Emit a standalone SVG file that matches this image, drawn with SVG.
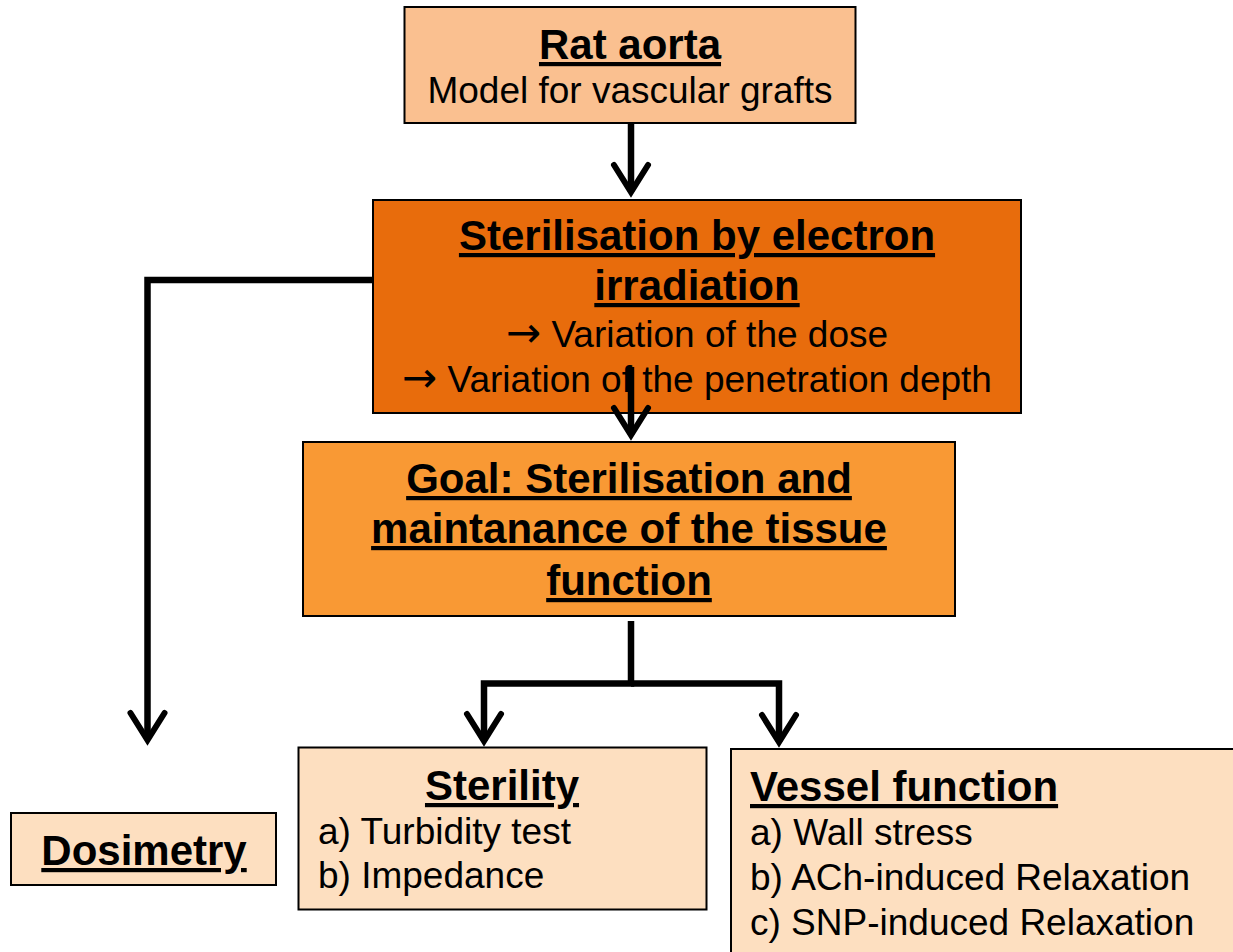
<svg xmlns="http://www.w3.org/2000/svg" width="1233" height="952" viewBox="0 0 1233 952">
<style>
.box{stroke:#000;stroke-width:2}
.t{font-family:"Liberation Sans",Arial,sans-serif;fill:#000}
.b{font-size:42px;font-weight:bold;text-decoration:underline}
.r{font-size:37px}
.c{text-anchor:middle}
.arr{font-family:"DejaVu Sans",sans-serif;font-size:42px}
.con{fill:none;stroke:#000;stroke-width:6.5;stroke-linejoin:miter}
</style>
<defs>
<marker id="ah" markerUnits="userSpaceOnUse" viewBox="-40 -25 50 50" refX="0" refY="0" markerWidth="50" markerHeight="50" orient="auto" overflow="visible">
<path d="M-27,-17 L0,0 L-27,17" fill="none" stroke="#000" stroke-width="6" stroke-linecap="round" stroke-linejoin="miter"/>
</marker>
</defs>
<rect width="1233" height="952" fill="#fff"/>
<g id="rat-aorta">
<rect class="box" x="404.5" y="7" width="451" height="116" fill="#FAC090"/>
<text class="t b c" x="630" y="59">Rat aorta</text>
<text class="t r c" x="630" y="103">Model for vascular grafts</text>
</g>
<g id="sterilisation">
<rect class="box" x="373" y="200" width="648" height="213" fill="#E86C0C"/>
<text class="t b c" x="697" y="250">Sterilisation by electron</text>
<text class="t b c" x="697" y="300">irradiation</text>
<text class="t r c" x="697" y="347"><tspan class="arr">→</tspan> Variation of the dose</text>
<text class="t r c" x="697" y="392"><tspan class="arr">→</tspan> Variation of the penetration depth</text>
</g>
<g id="goal">
<rect class="box" x="303" y="442" width="652" height="174" fill="#F99934"/>
<text class="t b c" x="629" y="493">Goal: Sterilisation and</text>
<text class="t b c" x="629" y="543">maintanance of the tissue</text>
<text class="t b c" x="629" y="595">function</text>
</g>
<g id="dosimetry">
<rect class="box" x="11" y="813" width="265" height="72" fill="#FDDFC0"/>
<text class="t b c" x="144" y="865">Dosimetry</text>
</g>
<g id="sterility">
<rect class="box" x="298.5" y="747.5" width="408" height="162" fill="#FDDFC0"/>
<text class="t b c" x="502" y="800">Sterility</text>
<text class="t r" x="318" y="844">a) Turbidity test</text>
<text class="t r" x="318" y="888">b) Impedance</text>
</g>
<g id="vessel-function">
<rect class="box" x="731" y="749" width="520" height="220" fill="#FDDFC0"/>
<text class="t b" x="750" y="801">Vessel function</text>
<text class="t r" x="750" y="845">a) Wall stress</text>
<text class="t r" x="750" y="890">b) ACh-induced Relaxation</text>
<text class="t r" x="750" y="935">c) SNP-induced Relaxation</text>
</g>
<g id="connectors">
<path class="con" d="M631,123 V192" marker-end="url(#ah)"/>
<path class="con" d="M631,367 V435" marker-end="url(#ah)"/>
<path class="con" d="M373,280 H147.5 V740" marker-end="url(#ah)"/>
<path class="con" d="M631,621 V683.5 H484 V741" marker-end="url(#ah)"/>
<path class="con" d="M631,683.5 H779 V742" marker-end="url(#ah)"/>
</g>
</svg>
